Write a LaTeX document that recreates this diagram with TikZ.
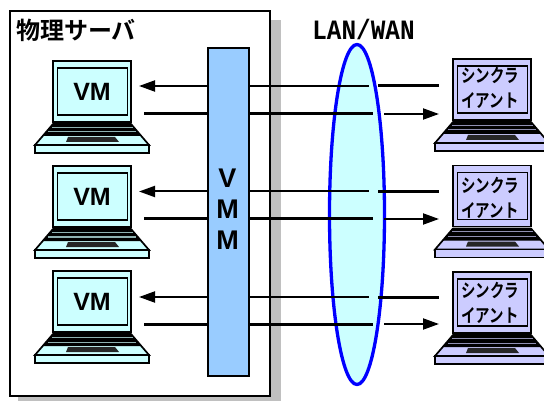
\documentclass[tikz,border=0pt]{standalone}
\usepackage{graphicx}
\usepackage{fontspec}
\setmainfont{Liberation Sans}
\setmonofont{Liberation Mono}
\newfontfamily\cjk{Noto Sans CJK JP}[BoldFont={* Bold}]
\usetikzlibrary{arrows.meta,shapes.geometric}
\tikzset{
 x=1pt,y=-1pt,
 lap/.style={draw=black,line width=1.7pt},
 thick line/.style={line width=3pt},
 thin line/.style={line width=2pt},
 tip/.style={-{Triangle[length=16pt,width=11pt,inset=0pt]}},
 vmtext/.style={font=\fontsize{25}{25}\selectfont\bfseries,inner sep=0pt},
 cltext/.style={font=\fontsize{18.5}{25}\selectfont\cjk\bfseries,align=center,inner sep=0pt},
}
\newcommand{\cltxt}{\scalebox{.78}[1]{シンクラ}\\\scalebox{.78}[1]{イアント}}
\newcommand{\laptop}[3]{% x,y of top-left of lid, colour
 \begin{scope}[shift={(#1,#2)}]
 \draw[lap,fill=#3] (0,0) rectangle (78,61);
 \draw[lap,fill=#3] (4.5,7) rectangle (74.5,54);
 \draw[lap,fill=#3,line join=miter] (0,63) -- (78,63) -- (96,84) -- (-18,84) -- cycle;
 \fill[black] (0,63) -- (78,63) -- (88,75) -- (-10,75) -- cycle;
 \draw[#3!70!black,line width=1pt] (-1,66.5) -- (80,66.5) (-5,71) -- (83,71);
 \fill[black!85] (15,76) -- (62,76) -- (66,81) -- (13,81) -- cycle;
 \draw[lap,fill=#3] (-18,84) rectangle (96,92);
 \end{scope}}
\begin{document}
\begin{tikzpicture}
\useasboundingbox (0,0) rectangle (544,401);
\definecolor{lapc}{HTML}{CCFFFF}
\definecolor{clc}{HTML}{CCCCFF}
\definecolor{vmm}{HTML}{99CCFF}
\definecolor{shd}{HTML}{C0C0C0}
\fill[shd] (18,20) rectangle (281,401);
\node[draw=black,fill=white,line width=1.8pt,minimum width=260pt,minimum height=385pt,anchor=north west,inner sep=0pt] (srv) at (9,10) {};
\node[anchor=west,inner sep=0pt,font=\fontsize{24}{24}\selectfont\cjk\bfseries] (title) at (16,30) {物理サーバ};
\node[anchor=center,inner sep=0pt,font=\fontsize{28}{28}\selectfont\ttfamily\bfseries] (lan) at (363.5,29) {\scalebox{.87}[1]{LAN/WAN}};
\foreach \yy in {0,105,210}{
 \laptop{53}{61+\yy}{lapc}
}
\laptop{453}{59}{clc}
\laptop{453}{165.5}{clc}
\laptop{453}{272}{clc}
\node[vmtext] (vm1) at (92,92) {VM};
\node[vmtext] (vm2) at (92,197) {VM};
\node[vmtext] (vm3) at (92,302) {VM};
\node[cltext] (c1) at (490,88) {\cltxt};
\node[cltext] (c2) at (490,197.5) {\cltxt};
\node[cltext] (c3) at (490,303) {\cltxt};
\node[draw=black,fill=vmm,line width=1.8pt,minimum width=41pt,minimum height=328pt,anchor=north west,inner sep=0pt] (v) at (207,47) {};
\node[inner sep=0pt,font=\fontsize{27}{31}\selectfont\bfseries,align=center] (vt) at (227.5,209) {V\\M\\M};
\node[draw=blue,fill=lapc,line width=3.3pt,ellipse,minimum width=55pt,minimum height=340pt,inner sep=0pt] (lw) at (357,214.5) {};
\foreach \ya/\yb [count=\i] in {86/114,191.5/219,297/324}{
 \coordinate (la\i) at (139,\ya);
 \coordinate (lb\i) at (144,\yb);
 \coordinate (ra\i) at (439,\ya);
 \coordinate (rb\i) at (439,\yb);
 \draw[thin line,tip] (v.west|-la\i) -- (la\i);
 \draw[thick line] (v.west|-lb\i) -- (lb\i);
 \draw[thin line] (v.east|-la\i) -- (369,\ya);
 \draw[thick line] (378,\ya) -- (ra\i);
 \draw[thick line] (v.east|-lb\i) -- (373,\yb);
 \draw[thin line,tip] (384,\yb) -- (rb\i);
}
\end{tikzpicture}
\end{document}
